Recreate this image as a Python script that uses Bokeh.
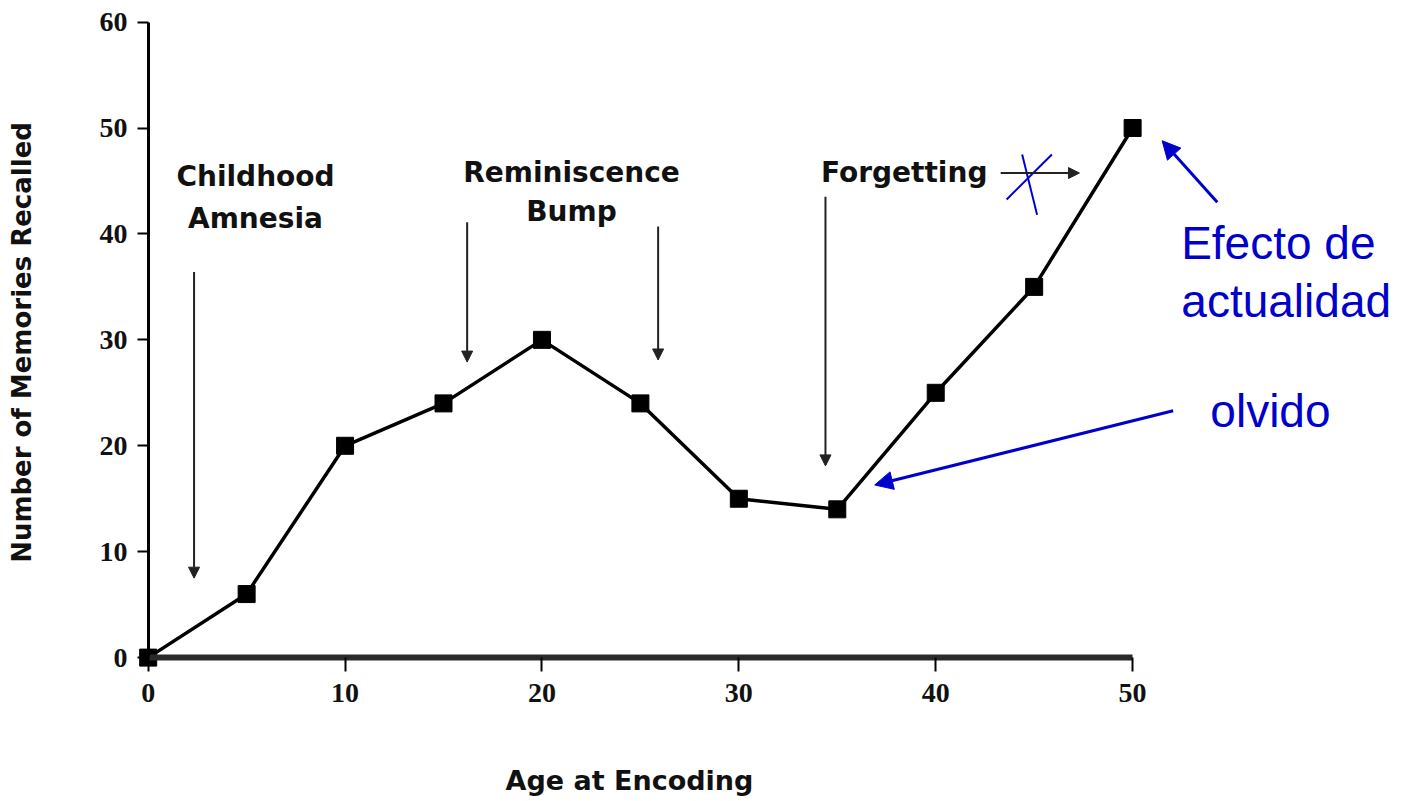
from bokeh.plotting import figure
from bokeh.models import Range1d, Arrow, NormalHead, FixedTicker, Label, LinearAxis, Title
from bokeh.embed import file_html
from bokeh.resources import INLINE

# ---- data ----
age = [0, 5, 10, 15, 20, 25, 30, 35, 40, 45, 50]
memories = [0, 6, 20, 24, 30, 24, 15, 14, 25, 35, 50]
x_ticks = [0, 10, 20, 30, 40, 50]
y_ticks = [0, 10, 20, 30, 40, 50, 60]

x_title = "Age at Encoding"
y_title = "Number of Memories Recalled"

phase_text = ["Childhood", "Amnesia", "Reminiscence", "Bump", "Forgetting"]
phase_x = [5.45, 5.45, 21.5, 21.5, 38.4]
phase_y = [45.4, 41.5, 45.8, 42.1, 45.8]

# black arrows: (x_start, y_start, x_end, y_end)
black_arrows = [
    (2.33, 36.4, 2.33, 7.5),
    (16.2, 41.1, 16.2, 27.9),
    (25.9, 40.7, 25.9, 28.1),
    (34.4, 43.5, 34.4, 18.1),
    (43.3, 45.75, 47.3, 45.75),
]

# blue annotations
blue_text = ["Efecto de", "actualidad", "olvido"]
blue_x = [57.4, 57.8, 57.0]
blue_y = [39.1, 33.7, 23.3]
blue_arrows = [
    (54.3, 43.0, 51.5, 48.8),
    (52.06, 23.3, 36.9, 16.3),
]
cross_x0 = [44.39, 45.9]
cross_y0 = [47.5, 47.5]
cross_x1 = [45.15, 43.6]
cross_y1 = [41.8, 43.25]

BLUE = "#0000CC"

p = figure(width=1393, height=800, output_backend="svg", toolbar_location=None,
           x_range=Range1d(-1, 63.2), y_range=Range1d(-1.5, 61),
           min_border_left=128, min_border_right=1, min_border_top=11,
           min_border_bottom=127)
p.outline_line_color = None
p.grid.visible = False

p.line(age, memories, line_color="black", line_width=3.5)
p.scatter(age, memories, marker="square", size=17, color="black")


def style_labels_only(ax, standoff):
    ax.axis_line_color = None
    ax.major_tick_line_color = None
    ax.minor_tick_line_color = None
    ax.major_tick_out = 0
    ax.major_tick_in = 0
    ax.minor_tick_out = 0
    ax.minor_tick_in = 0
    ax.major_label_standoff = standoff
    ax.major_label_text_font = "Liberation Serif"
    ax.major_label_text_font_style = "bold"
    ax.major_label_text_font_size = "28px"
    ax.major_label_text_color = "#111111"
    ax.axis_label_text_font = "DejaVu Sans"
    ax.axis_label_text_font_style = "bold"
    ax.axis_label_text_color = "#111111"


# label-carrying axes at the frame edges
xa = p.xaxis[0]
xa.ticker = FixedTicker(ticks=x_ticks)
style_labels_only(xa, 10)

ya = p.yaxis[0]
ya.ticker = FixedTicker(ticks=y_ticks)
style_labels_only(ya, 1)
ya.axis_label = y_title
ya.axis_label_text_font_size = "26px"
ya.axis_label_standoff = 60

# axis lines and ticks placed at data zero (no labels of their own)
xline = LinearAxis(fixed_location=0, bounds=(0, 50), ticker=FixedTicker(ticks=x_ticks),
                   axis_line_width=6, axis_line_color="#2a2a2a",
                   major_tick_out=14, major_tick_in=0, major_tick_line_width=2,
                   minor_tick_out=0, minor_tick_in=0,
                   major_label_overrides={t: "" for t in x_ticks})
p.add_layout(xline, "below")
yline = LinearAxis(fixed_location=0, bounds=(0, 60), ticker=FixedTicker(ticks=y_ticks),
                   axis_line_width=3, axis_line_color="black",
                   major_tick_out=11, major_tick_in=0, major_tick_line_width=2,
                   minor_tick_out=0, minor_tick_in=0,
                   major_label_overrides={t: "" for t in y_ticks})
p.add_layout(yline, "left")

# empty spacer between tick labels and the x title
spacer = LinearAxis(ticker=FixedTicker(ticks=[0]), axis_line_color=None,
                    major_tick_out=56, major_tick_in=0, major_tick_line_color=None,
                    minor_tick_out=0, minor_tick_in=0, minor_tick_line_color=None,
                    major_label_overrides={0: ""}, major_label_standoff=0)
p.add_layout(spacer, "below")

# x-axis title, placed under the centre of the data span
p.add_layout(Title(text=x_title, align="left", offset=377, standoff=4,
                   text_font="DejaVu Sans", text_font_style="bold",
                   text_font_size="27px", text_color="#111111"), "below")

# phase labels
for t, x, y in zip(phase_text, phase_x, phase_y):
    p.add_layout(Label(x=x, y=y, text=t, text_align="center", text_baseline="middle",
                       text_font="DejaVu Sans", text_font_style="bold",
                       text_font_size="28px", text_color="#111111"))

for (x0, y0, x1, y1) in black_arrows:
    p.add_layout(Arrow(x_start=x0, y_start=y0, x_end=x1, y_end=y1,
                       line_color="#222222", line_width=2,
                       end=NormalHead(size=11, fill_color="#222222", line_color="#222222")))

# blue annotations
p.segment(cross_x0, cross_y0, cross_x1, cross_y1, line_color=BLUE, line_width=2)
for (x0, y0, x1, y1) in blue_arrows:
    p.add_layout(Arrow(x_start=x0, y_start=y0, x_end=x1, y_end=y1,
                       line_color=BLUE, line_width=3,
                       end=NormalHead(size=18, fill_color=BLUE, line_color=BLUE)))
for t, x, y in zip(blue_text, blue_x, blue_y):
    p.add_layout(Label(x=x, y=y, text=t, text_align="center", text_baseline="middle",
                       text_font="Liberation Sans", text_font_size="46px",
                       text_color=BLUE))

open("out.html", "w").write(file_html(p, INLINE))
